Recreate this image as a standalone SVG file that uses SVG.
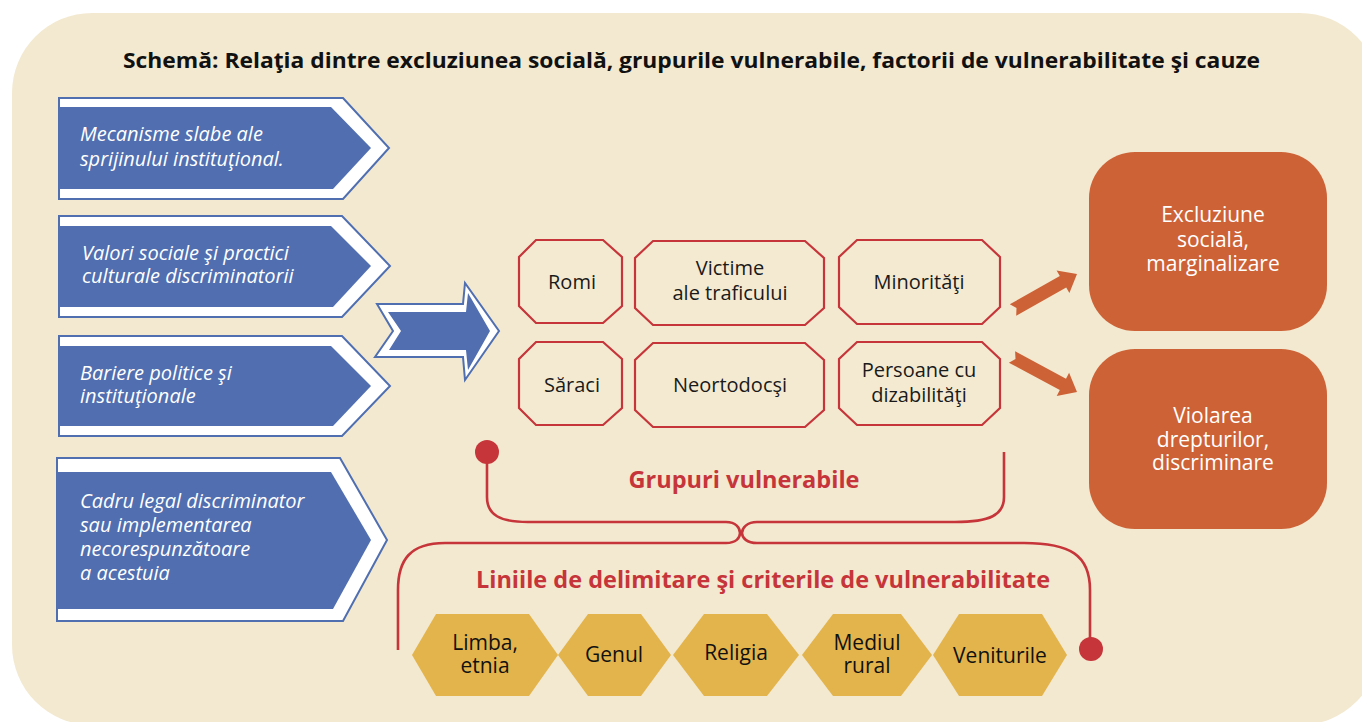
<svg xmlns="http://www.w3.org/2000/svg" width="1362" height="722" viewBox="0 0 1362 722">
<style>
.bg{fill:#F3E9D0}
.outline{fill:#FFFFFF;stroke:#4F6FB1;stroke-width:2;stroke-linejoin:miter}
.blue{fill:#506EB0}
.cause{font-family:"Open Sans","DejaVu Sans",sans-serif;font-style:italic;font-size:20px;fill:#FFFFFF}
.oct{fill:#F4EAD1;stroke:#C6353A;stroke-width:2.2}
.grp{font-family:"Open Sans","DejaVu Sans",sans-serif;font-size:20px;fill:#1A1A1A;text-anchor:middle}
.res{fill:#CD6236}
.restxt{font-family:"Open Sans","DejaVu Sans",sans-serif;font-size:21px;fill:#FFFFFF;text-anchor:middle}
.hex{fill:#E3B44C}
.hextxt{font-family:"Open Sans","DejaVu Sans",sans-serif;font-size:21px;fill:#111111;text-anchor:middle}
.brace{fill:none;stroke:#C6353A;stroke-width:2.6}
.dot{fill:#C6353A}
.redlbl{font-family:"Open Sans","DejaVu Sans",sans-serif;font-weight:bold;font-size:23px;fill:#C6353A;text-anchor:middle}
.title{font-family:"Open Sans","DejaVu Sans",sans-serif;font-weight:bold;font-size:21px;fill:#111111}
</style>
<rect class="bg" x="12" y="13" width="1368" height="712" rx="80" ry="80"/>
<text class="title" x="123" y="68" textLength="1137" lengthAdjust="spacingAndGlyphs">Schemă: Relaţia dintre excluziunea socială, grupurile vulnerabile, factorii de vulnerabilitate şi cauze</text>

<g id="cause1">
<polygon class="outline" points="59,98 343,98 389,148 343,199 59,199"/>
<polygon class="blue" points="60,107 331,107 371,148 333,189 60,189"/>
<text class="cause" x="80" y="141">Mecanisme slabe ale</text>
<text class="cause" x="80" y="166">sprijinului instituţional.</text>
</g>
<g id="cause2">
<polygon class="outline" points="59,216 342,216 390,266 342,317 59,317"/>
<polygon class="blue" points="60,226 331,226 371,266 333,307 60,307"/>
<text class="cause" x="82" y="260">Valori sociale şi practici</text>
<text class="cause" x="82" y="283">culturale discriminatorii</text>
</g>
<g id="cause3">
<polygon class="outline" points="59,336 342,336 390,386 342,436 59,436"/>
<polygon class="blue" points="60,346 331,346 371,386 333,426 60,426"/>
<text class="cause" x="80" y="380">Bariere politice şi</text>
<text class="cause" x="80" y="403">instituţionale</text>
</g>
<g id="cause4">
<polygon class="outline" points="57,458 340,458 387,540 343,621 57,621"/>
<polygon class="blue" points="58,472 331,472 371,540 333,609 58,609"/>
<text class="cause" x="80" y="508">Cadru legal discriminator</text>
<text class="cause" x="80" y="532">sau implementarea</text>
<text class="cause" x="80" y="556">necorespunzătoare</text>
<text class="cause" x="80" y="580">a acestuia</text>
</g>

<g id="bigarrow">
<polygon class="outline" points="377,304 463,304 465,283 499,331 465,380 463,357 375,357 393,331"/>
<polygon class="blue" points="388,312 466,312 468,293 490,331 468,370 466,350 389,350 401,331"/>
</g>

<g id="romi">
<polygon class="oct" points="536,240 603,240 622,257 622,306 603,323 536,323 519,306 519,257"/>
<text class="grp" x="572" y="289">Romi</text>
</g>
<g id="victime">
<polygon class="oct" points="653,241 805,241 824,258 824,308 805,325 653,325 635,308 635,258"/>
<text class="grp" x="730" y="275">Victime</text>
<text class="grp" x="730" y="300">ale traficului</text>
</g>
<g id="minoritati">
<polygon class="oct" points="857,240 982,240 1000,257 1000,307 982,324 857,324 839,307 839,257"/>
<text class="grp" x="919" y="289">Minorităţi</text>
</g>
<g id="saraci">
<polygon class="oct" points="536,342 603,342 622,359 622,408 603,425 536,425 519,408 519,359"/>
<text class="grp" x="572" y="392">Săraci</text>
</g>
<g id="neortodocsi">
<polygon class="oct" points="653,343 805,343 824,360 824,410 805,427 653,427 635,410 635,360"/>
<text class="grp" x="730" y="392">Neortodocşi</text>
</g>
<g id="persoane">
<polygon class="oct" points="857,342 982,342 1000,359 1000,408 982,425 857,425 839,408 839,359"/>
<text class="grp" x="919" y="377">Persoane cu</text>
<text class="grp" x="919" y="402">dizabilităţi</text>
</g>

<g id="excluziune">
<rect class="res" x="1089" y="152" width="238" height="179" rx="46" ry="46"/>
<text class="restxt" x="1213" y="222">Excluziune</text>
<text class="restxt" x="1213" y="247">socială,</text>
<text class="restxt" x="1213" y="271">marginalizare</text>
</g>
<g id="violarea">
<rect class="res" x="1089" y="349" width="238" height="180" rx="46" ry="46"/>
<text class="restxt" x="1213" y="423">Violarea</text>
<text class="restxt" x="1213" y="447">drepturilor,</text>
<text class="restxt" x="1213" y="470">discriminare</text>
</g>

<g id="criterii">
<g id="limba">
<polygon class="hex" points="412,655 436,614 529,614 558,655 529,696 436,696"/>
<text class="hextxt" x="485" y="650">Limba,</text>
<text class="hextxt" x="485" y="673">etnia</text>
</g>
<g id="genul">
<polygon class="hex" points="558,655 588,614 641,614 671,655 641,696 588,696"/>
<text class="hextxt" x="614" y="662">Genul</text>
</g>
<g id="religia">
<polygon class="hex" points="673,655 704,614 767,614 799,655 767,696 704,696"/>
<text class="hextxt" x="736" y="660">Religia</text>
</g>
<g id="mediul">
<polygon class="hex" points="802,655 833,614 901,614 932,655 901,696 833,696"/>
<text class="hextxt" x="867" y="650">Mediul</text>
<text class="hextxt" x="867" y="673">rural</text>
</g>
<g id="veniturile">
<polygon class="hex" points="933,655 959,614 1042,614 1067,655 1042,696 959,696"/>
<text class="hextxt" x="1000" y="663">Veniturile</text>
</g>
</g>

<g id="connectors">
<polygon class="res" points="1009.8,304.3 1059.8,276.1 1056.6,270.5 1077,274 1069.4,293.1 1066.2,287.5 1016.2,315.7 1016.5,308"/>
<polygon class="res" points="1015.1,351.3 1066,378.7 1069.1,372.8 1077,392 1056.7,395.9 1059.8,390.1 1008.9,362.7 1015.5,358.9"/>
<path class="brace" d="M487,452 L487,497 C487,515 500,522 528,522 L726,522 C736,522 740,528 740,533 C740,538 736,543 726,543 L445,543 C410,543 398,560 398,590 L398,650"/>
<path class="brace" d="M1004,452 L1004,497 C1004,515 990,522 955,522 L757,522 C747,522 742,528 742,533 C742,538 747,543 757,543 L1024,543 C1070,543 1090,555 1090,590 L1090,648"/>
<circle class="dot" cx="487" cy="452" r="12"/>
<circle class="dot" cx="1091" cy="649" r="12"/>
</g>

<text class="redlbl" x="744" y="488" textLength="231" lengthAdjust="spacingAndGlyphs">Grupuri vulnerabile</text>
<text class="redlbl" x="763" y="588" textLength="574" lengthAdjust="spacingAndGlyphs">Liniile de delimitare şi criterile de vulnerabilitate</text>
</svg>
